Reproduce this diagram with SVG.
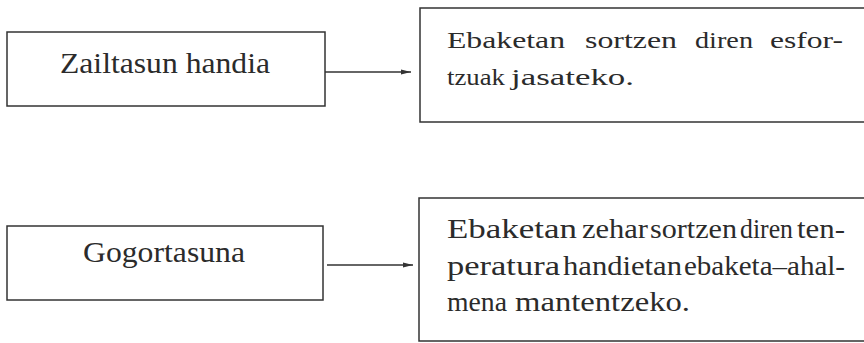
<svg xmlns="http://www.w3.org/2000/svg" width="864" height="343" viewBox="0 0 864 343">
<style>
.box{fill:none;stroke:#333;stroke-width:1.5}
.lbl{font-family:"Liberation Serif","Times New Roman",serif;font-size:29px;fill:#2b2b2b}
.txt{font-family:"Liberation Serif","Times New Roman",serif;font-size:23.5px;fill:#2b2b2b}
.txt2{font-family:"Liberation Serif","Times New Roman",serif;font-size:28px;fill:#2b2b2b}
.conn{stroke:#333;stroke-width:1.5;fill:none}
</style>
<defs>
<marker id="ah" viewBox="0 0 10 6" refX="10" refY="3" markerWidth="10" markerHeight="6" markerUnits="userSpaceOnUse" orient="auto">
<path d="M0,0.5 L10,3 L0,5.5 Z" fill="#333"/>
</marker>
</defs>
<rect width="864" height="343" fill="#fff"/>
<g id="zailtasun">
<rect class="box" x="7" y="32" width="318" height="74"/>
<text class="lbl" x="60" y="73" textLength="210" lengthAdjust="spacingAndGlyphs">Zailtasun handia</text>
</g>
<g id="esfortzuak">
<path class="box" d="M866,8 H420 V122 H866"/>
<text class="txt" y="48"><tspan x="447" textLength="118" lengthAdjust="spacingAndGlyphs">Ebaketan</tspan> <tspan x="585" textLength="92" lengthAdjust="spacingAndGlyphs">sortzen</tspan> <tspan x="695" textLength="58" lengthAdjust="spacingAndGlyphs">diren</tspan> <tspan x="770" textLength="73" lengthAdjust="spacingAndGlyphs">esfor-</tspan></text>
<text class="txt" y="85"><tspan x="447" textLength="58" lengthAdjust="spacingAndGlyphs">tzuak</tspan> <tspan x="511" textLength="123" lengthAdjust="spacingAndGlyphs">jasateko.</tspan></text>
</g>
<g id="gogortasuna">
<rect class="box" x="7" y="226" width="316" height="74"/>
<text class="lbl" x="83" y="262" textLength="162" lengthAdjust="spacingAndGlyphs">Gogortasuna</text>
</g>
<g id="tenperatura">
<path class="box" d="M866,198 H419 V341 H866"/>
<text class="txt2" y="238"><tspan x="447" textLength="130" lengthAdjust="spacingAndGlyphs">Ebaketan</tspan> <tspan x="582" textLength="66" lengthAdjust="spacingAndGlyphs">zehar</tspan> <tspan x="650" textLength="87" lengthAdjust="spacingAndGlyphs">sortzen</tspan> <tspan x="740" textLength="53" lengthAdjust="spacingAndGlyphs">diren</tspan> <tspan x="797" textLength="48" lengthAdjust="spacingAndGlyphs">ten-</tspan></text>
<text class="txt2" y="275"><tspan x="447" textLength="113" lengthAdjust="spacingAndGlyphs">peratura</tspan> <tspan x="563" textLength="119" lengthAdjust="spacingAndGlyphs">handietan</tspan> <tspan x="684" textLength="161" lengthAdjust="spacingAndGlyphs">ebaketa–ahal-</tspan></text>
<text class="txt2" y="311"><tspan x="447" textLength="60" lengthAdjust="spacingAndGlyphs">mena</tspan> <tspan x="515" textLength="175" lengthAdjust="spacingAndGlyphs">mantentzeko.</tspan></text>
</g>
<g id="connectors">
<line class="conn" x1="325" y1="72" x2="411" y2="72" marker-end="url(#ah)"/>
<line class="conn" x1="327" y1="265" x2="413" y2="265" marker-end="url(#ah)"/>
</g>
</svg>
